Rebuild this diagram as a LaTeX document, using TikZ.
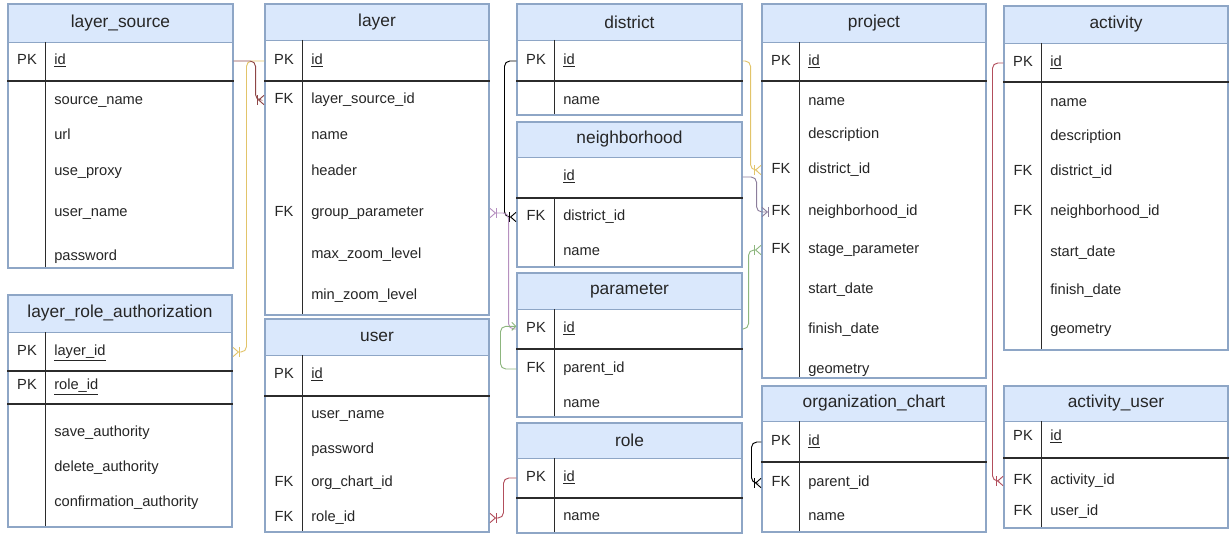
\documentclass[tikz,border=0pt]{standalone}
\usepackage{fontspec}
\setmainfont{Liberation Sans}
\usetikzlibrary{arrows.meta,fit}

\definecolor{headcol}{HTML}{DAE8FC}
\definecolor{framecol}{HTML}{8EA6C6}
\definecolor{divcol}{HTML}{2B2B2B}
\definecolor{txtcol}{HTML}{262626}
\definecolor{yelc}{HTML}{E2C46A}
\definecolor{brownc}{HTML}{8E4646}
\definecolor{purc}{HTML}{B690C0}
\definecolor{grayc}{HTML}{8C7E9C}
\definecolor{greenc}{HTML}{8DB67E}
\definecolor{redc}{HTML}{B24E5C}

% frame, header and divider of one table
\newcommand{\ertable}[8]{%
  \fill[white] (#2,#4) rectangle (#3,#6);
  \fill[headcol] (#2,#4) rectangle (#3,#5);
  \draw[framecol, line width=0.6pt] (#2,#5) -- (#3,#5);
  \draw[divline] ({#2+37.5},#7) -- ({#2+37.5},#6);
  \node[tablebox, fit={(#2,#4) (#3,#6)}] (#1) {};
  \node[tabletitle] (#1-title) at ({(#2+#3)/2},{(#4+#5)/2}) {#8};}
% line under a key row
\newcommand{\ersep}[2]{\draw[divline] (#1.west |- 0,#2) -- (#1.east |- 0,#2);}
% key and field texts
\newcommand{\erfields}[3]{%
  \foreach \yy/\kk/\fld [count=\rr] in {#3}{%
    \node[keytext] (#1-k\rr) at ({#2+19},\yy) {\kk};
    \node[field] (#1-\rr) at ({#2+46},\yy) {\fld};}}

\begin{document}
\begin{tikzpicture}[x=0.75pt,y=-0.75pt,
   tablebox/.style={draw=framecol,line width=0.8pt,inner sep=0pt},
   tabletitle/.style={font=\fontsize{13}{15}\selectfont,text=txtcol},
   divline/.style={draw=divcol,line width=1pt},
   field/.style={anchor=west,inner sep=0pt,text height=8pt,text depth=2.5pt,
     font=\fontsize{11}{13}\selectfont,text=txtcol},
   keytext/.style={inner sep=0pt,text height=8pt,text depth=2.5pt,
     font=\fontsize{11}{13}\selectfont,text=txtcol},
   conn/.style={line width=0.7pt,rounded corners=4pt},
   many/.style={-{Bar[width=7pt,line width=0.7pt] Straight Barb[reversed,length=4pt,width=7pt,line width=0.7pt]}}]

  \useasboundingbox (0,0) rectangle (1231,535);

  % tables
  \ertable{ls}{8}{233}{4}{42}{268}{42}{layer\_source}
  \ersep{ls}{81}
  \erfields{ls}{8}{61/PK/\underline{id}, 101//source\_name, 136//url,
    172//use\_proxy, 213//user\_name, 257//password}

  \ertable{lra}{8}{232}{295}{332}{527}{332}{layer\_role\_authorization}
  \ersep{lra}{371}
  \ersep{lra}{404}
  \erfields{lra}{8}{352/PK/\underline{layer\_id}, 386/PK/\underline{role\_id},
    433//save\_authority, 468//delete\_authority, 503//confirmation\_authority}

  \ertable{ly}{265}{489}{4}{40}{315}{40}{layer}
  \ersep{ly}{81}
  \erfields{ly}{265}{61/PK/\underline{id}, 100/FK/layer\_source\_id, 136//name,
    172//header, 213/FK/group\_parameter, 255//max\_zoom\_level, 296//min\_zoom\_level}

  \ertable{us}{265}{489}{319}{355}{532}{355}{user}
  \ersep{us}{396}
  \erfields{us}{265}{375/PK/\underline{id}, 415//user\_name, 450//password,
    483/FK/org\_chart\_id, 518/FK/role\_id}

  \ertable{di}{517}{742}{4}{40}{115}{40}{district}
  \ersep{di}{81}
  \erfields{di}{517}{61/PK/\underline{id}, 101//name}

  \ertable{nb}{517}{742}{122}{157}{267}{198}{neighborhood}
  \ersep{nb}{198}
  \erfields{nb}{517}{177//\underline{id}, 217/FK/district\_id, 252//name}

  \ertable{pa}{517}{742}{273}{309}{417}{309}{parameter}
  \ersep{pa}{349}
  \erfields{pa}{517}{329/PK/\underline{id}, 369/FK/parent\_id, 404//name}

  \ertable{ro}{517}{742}{423}{458}{533}{458}{role}
  \ersep{ro}{498}
  \erfields{ro}{517}{478/PK/\underline{id}, 517//name}

  \ertable{pj}{762}{986}{4}{42}{378}{42}{project}
  \ersep{pj}{81}
  \erfields{pj}{762}{62/PK/\underline{id}, 102//name, 135//description,
    170/FK/district\_id, 212/FK/neighborhood\_id, 250/FK/stage\_parameter,
    290//start\_date, 330//finish\_date, 370//geometry}

  \ertable{oc}{762}{986}{386}{421}{532}{421}{organization\_chart}
  \ersep{oc}{462}
  \erfields{oc}{762}{442/PK/\underline{id}, 483/FK/parent\_id, 517//name}

  \ertable{ac}{1004}{1228}{6}{43}{350}{43}{activity}
  \ersep{ac}{82}
  \erfields{ac}{1004}{63/PK/\underline{id}, 103//name, 137//description,
    172/FK/district\_id, 212/FK/neighborhood\_id, 253//start\_date,
    291//finish\_date, 330//geometry}

  \ertable{au}{1004}{1228}{386}{421}{528}{421}{activity\_user}
  \ersep{au}{458}
  \erfields{au}{1004}{437/PK/\underline{id}, 481/FK/activity\_id, 512/FK/user\_id}

  % relations
  \draw[conn,yelc,many] (ly.west |- ly-1) -- ++(-18,0) |- (lra.east |- lra-1);
  \draw[conn,brownc,many] (ls.east |- ls-1) -- ++(22,0) |- (ly.west |- ly-2);
  \draw[conn,black,many] (di.west |- di-1) -- ++(-12,0) |- (nb.west |- nb-2);
  \draw[conn,purc,{Straight Barb[reversed,length=4pt,width=7pt] Bar[width=7pt]}-]
    (ly.east |- ly-5) -- ++(19,0) |- (pa.west |- pa-1);
  \draw[conn,greenc,-{Straight Barb[length=3pt,width=6pt]}]
    (pa.west |- pa-2) -- ++(-16,0) |- ([yshift=2pt]pa.west |- pa-1);
  \draw[conn,yelc,many] (di.east |- di-1) -- ++(8,0) |- (pj.west |- pj-4);
  \draw[conn,grayc,many] (nb.east |- nb-1) -- ++(14,0) |- (pj.west |- pj-5);
  \draw[conn,greenc,many] (pa.east |- pa-1) -- ++(6,0) |- (pj.west |- pj-6);
  \draw[conn,black,many] (oc.west |- oc-1) -- ++(-10,0) |- (oc.west |- oc-2);
  \draw[conn,redc,many] (ro.west |- ro-1) -- ++(-13,0) |- (us.east |- us-5);
  \draw[conn,redc,many] (ac.west |- ac-1) -- ++(-11,0) |- (au.west |- au-2);
\end{tikzpicture}
\end{document}
